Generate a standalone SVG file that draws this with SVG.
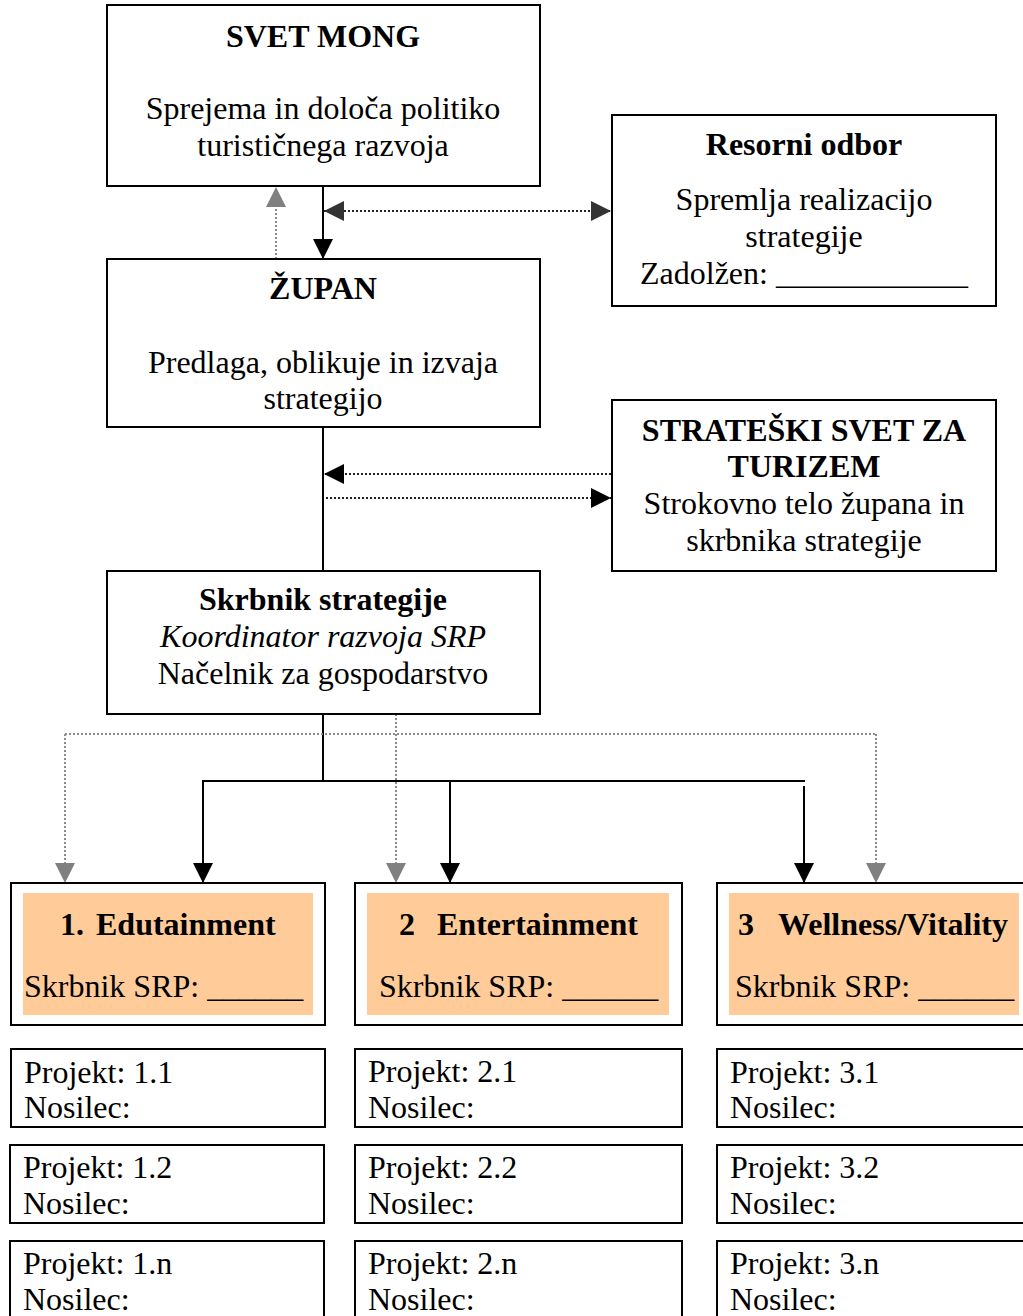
<svg xmlns="http://www.w3.org/2000/svg" width="1023" height="1316" viewBox="0 0 1023 1316">
  <style>
    .box { fill: #fff; stroke: #000; stroke-width: 2; }
    .band { fill: #FFCC99; stroke: none; }
    text { font-family: "Liberation Serif", "Times New Roman", serif; font-size: 32px; fill: #000; }
    .b { font-weight: bold; }
    .i { font-style: italic; }
    .c { text-anchor: middle; }
    .solid { fill: none; stroke: #000; stroke-width: 2; }
    .dotk { fill: none; stroke: #222; stroke-width: 2; stroke-dasharray: 2 2; }
    .dotg { fill: none; stroke: #8c8c8c; stroke-width: 2; stroke-dasharray: 2 2; }
  </style>
  <defs>
    <marker id="hk" viewBox="0 0 20 20" refX="20" refY="10" markerWidth="20" markerHeight="20" markerUnits="userSpaceOnUse" orient="auto">
      <path d="M0,0 L20,10 L0,20 z" fill="#000"/>
    </marker>
    <marker id="hd" viewBox="0 0 20 20" refX="20" refY="10" markerWidth="20" markerHeight="20" markerUnits="userSpaceOnUse" orient="auto-start-reverse">
      <path d="M0,0 L20,10 L0,20 z" fill="#333"/>
    </marker>
    <marker id="hg" viewBox="0 0 20 20" refX="20" refY="10" markerWidth="20" markerHeight="20" markerUnits="userSpaceOnUse" orient="auto">
      <path d="M0,0 L20,10 L0,20 z" fill="#808080"/>
    </marker>
  </defs>

  <!-- connectors -->
  <g id="connectors">
    <!-- council <-> mayor -->
    <line class="solid" x1="323" y1="186" x2="323" y2="259" marker-end="url(#hk)"/>
    <line class="dotg" x1="276" y1="259" x2="276" y2="187" marker-end="url(#hg)"/>
    <line class="dotk" x1="324" y1="211" x2="611" y2="211" marker-start="url(#hd)" marker-end="url(#hd)"/>
    <!-- mayor to strategy keeper -->
    <line class="solid" x1="323" y1="427" x2="323" y2="571"/>
    <line class="dotk" x1="611" y1="474" x2="324" y2="474" marker-end="url(#hk)"/>
    <line class="dotk" x1="326" y1="498" x2="611" y2="498" marker-end="url(#hk)"/>
    <!-- distribution to product lines -->
    <line class="solid" x1="323" y1="714" x2="323" y2="781"/>
    <line class="solid" x1="202" y1="781" x2="805" y2="781"/>
    <line class="solid" x1="203" y1="781" x2="203" y2="883" marker-end="url(#hk)"/>
    <line class="solid" x1="450" y1="781" x2="450" y2="883" marker-end="url(#hk)"/>
    <line class="solid" x1="804" y1="786" x2="804" y2="883" marker-end="url(#hk)"/>
    <line class="dotg" x1="65" y1="734" x2="876" y2="734"/>
    <line class="dotg" x1="65" y1="734" x2="65" y2="883" marker-end="url(#hg)"/>
    <line class="dotg" x1="876" y1="734" x2="876" y2="883" marker-end="url(#hg)"/>
    <line class="dotg" x1="396" y1="714" x2="396" y2="883" marker-end="url(#hg)"/>
  </g>

  <g id="svet-mong">
    <rect class="box" x="107" y="5" width="433" height="181"/>
    <text class="b c" x="323" y="47">SVET MONG</text>
    <text class="c" x="323" y="119">Sprejema in določa politiko</text>
    <text class="c" x="323" y="156">turističnega razvoja</text>
  </g>

  <g id="resorni-odbor">
    <rect class="box" x="612" y="115" width="384" height="191"/>
    <text class="b c" x="804" y="155">Resorni odbor</text>
    <text class="c" x="804" y="210">Spremlja realizacijo</text>
    <text class="c" x="804" y="247">strategije</text>
    <text x="640" y="284">Zadolžen: ____________</text>
  </g>

  <g id="zupan">
    <rect class="box" x="107" y="259" width="433" height="168"/>
    <text class="b c" x="323" y="299">ŽUPAN</text>
    <text class="c" x="323" y="373">Predlaga, oblikuje in izvaja</text>
    <text class="c" x="323" y="409">strategijo</text>
  </g>

  <g id="strateski-svet">
    <rect class="box" x="612" y="400" width="384" height="171"/>
    <text class="b c" x="804" y="441">STRATEŠKI SVET ZA</text>
    <text class="b c" x="804" y="477">TURIZEM</text>
    <text class="c" x="804" y="514">Strokovno telo župana in</text>
    <text class="c" x="804" y="551">skrbnika strategije</text>
  </g>

  <g id="skrbnik-strategije">
    <rect class="box" x="107" y="571" width="433" height="143"/>
    <text class="b c" x="323" y="610">Skrbnik strategije</text>
    <text class="i c" x="323" y="647">Koordinator razvoja SRP</text>
    <text class="c" x="323" y="684">Načelnik za gospodarstvo</text>
  </g>

  <g id="srp-1">
    <rect class="box" x="11" y="883" width="314" height="142"/>
    <rect class="band" x="23" y="893" width="290" height="122"/>
    <text class="b" x="60" y="935">1.</text>
    <text class="b" x="96" y="935">Edutainment</text>
    <text x="24" y="997">Skrbnik SRP: ______</text>
  </g>

  <g id="srp-2">
    <rect class="box" x="355" y="883" width="327" height="142"/>
    <rect class="band" x="367" y="893" width="302" height="122"/>
    <text class="b" x="399" y="935">2</text>
    <text class="b" x="437" y="935">Entertainment</text>
    <text x="379" y="997">Skrbnik SRP: ______</text>
  </g>

  <g id="srp-3">
    <rect class="box" x="717" y="883" width="320" height="142"/>
    <rect class="band" x="729" y="893" width="290" height="122"/>
    <text class="b" x="738" y="935">3</text>
    <text class="b" x="778" y="935" textLength="230" lengthAdjust="spacingAndGlyphs">Wellness/Vitality</text>
    <text x="735" y="997">Skrbnik SRP: ______</text>
  </g>

  <g id="projekt-1-1">
    <rect class="box" x="11" y="1049" width="314" height="78"/>
    <text x="24" y="1083">Projekt: 1.1</text>
    <text x="24" y="1118">Nosilec:</text>
  </g>
  <g id="projekt-1-2">
    <rect class="box" x="10" y="1145" width="314" height="78"/>
    <text x="23" y="1178">Projekt: 1.2</text>
    <text x="23" y="1214">Nosilec:</text>
  </g>
  <g id="projekt-1-n">
    <rect class="box" x="10" y="1241" width="314" height="90"/>
    <text x="23" y="1274">Projekt: 1.n</text>
    <text x="23" y="1310">Nosilec:</text>
  </g>

  <g id="projekt-2-1">
    <rect class="box" x="355" y="1049" width="327" height="78"/>
    <text x="368" y="1082">Projekt: 2.1</text>
    <text x="368" y="1118">Nosilec:</text>
  </g>
  <g id="projekt-2-2">
    <rect class="box" x="355" y="1145" width="327" height="78"/>
    <text x="368" y="1178">Projekt: 2.2</text>
    <text x="368" y="1214">Nosilec:</text>
  </g>
  <g id="projekt-2-n">
    <rect class="box" x="355" y="1241" width="327" height="90"/>
    <text x="368" y="1274">Projekt: 2.n</text>
    <text x="368" y="1310">Nosilec:</text>
  </g>

  <g id="projekt-3-1">
    <rect class="box" x="717" y="1049" width="320" height="78"/>
    <text x="730" y="1083">Projekt: 3.1</text>
    <text x="730" y="1118">Nosilec:</text>
  </g>
  <g id="projekt-3-2">
    <rect class="box" x="717" y="1145" width="320" height="78"/>
    <text x="730" y="1178">Projekt: 3.2</text>
    <text x="730" y="1214">Nosilec:</text>
  </g>
  <g id="projekt-3-n">
    <rect class="box" x="717" y="1241" width="320" height="90"/>
    <text x="730" y="1274">Projekt: 3.n</text>
    <text x="730" y="1310">Nosilec:</text>
  </g>
</svg>
